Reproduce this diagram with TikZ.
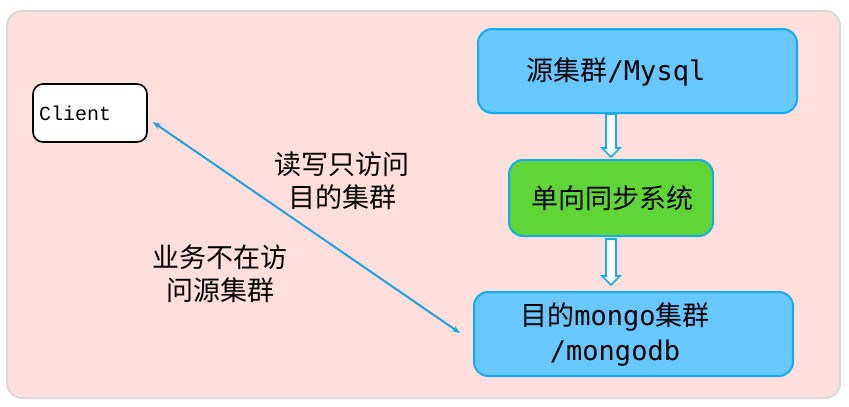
\documentclass[tikz,border=0pt]{standalone}
\usepackage{fontspec}
\newfontfamily\cjk{Noto Sans CJK SC}
\newfontfamily\mono{DejaVu Sans Mono}
\newfontfamily\cour{Liberation Mono}
\usetikzlibrary{arrows.meta,calc}
\definecolor{bgpink}{HTML}{FFDEDB}
\definecolor{bgline}{HTML}{D9D9D9}
\definecolor{boxblue}{HTML}{66C8FF}
\definecolor{boxline}{HTML}{12ADEE}
\definecolor{boxgreen}{HTML}{5FD635}
\definecolor{linkblue}{HTML}{1BA1E2}
\tikzset{
  box/.style={draw=boxline, line width=2pt, rounded corners=14pt, inner sep=0pt},
  bluebox/.style={box, fill=boxblue},
  greenbox/.style={box, fill=boxgreen},
  clientbox/.style={draw=black, line width=1.6pt, fill=white, rounded corners=10pt, inner sep=0pt, minimum width=114pt, minimum height=58pt},
  txt/.style={inner sep=0pt, align=center, font=\cjk\fontsize{27}{33}\selectfont},
  hollow/.style={draw=boxline, fill=white, line width=1.6pt, line join=miter},
  link/.style={draw=linkblue, line width=2pt, {Stealth[length=8pt,width=6pt]}-{Stealth[length=8pt,width=6pt]}}
}
\newcommand\hollowarrow[2]{%
  \draw[hollow] ($(#1)+(-5,0)$) -- ($(#2)+(-5,-9)$) -- ($(#2)+(-9,-9)$) -- (#2)
    -- ($(#2)+(9,-9)$) -- ($(#2)+(5,-9)$) -- ($(#1)+(5,0)$) -- cycle;}
\begin{document}
\begin{tikzpicture}[x=1pt,y=-1pt]
\useasboundingbox (0,0) rectangle (849,407);
\draw[draw=bgline, fill=bgpink, line width=2pt, rounded corners=15pt] (7,11) rectangle (840,398);
% boxes
\node[clientbox] (client) at (90,113) {};
\node[inner sep=0pt, anchor=west, font=\cour\fontsize{20}{22}\selectfont] (clientt) at (39,113) {Client};
\node[bluebox, minimum width=319pt, minimum height=84pt] (mysql) at (637.5,71) {};
\node[txt] (mysqlt) at (616,72) {源集群{\mono/Mysql}};
\node[greenbox, minimum width=204pt, minimum height=76pt] (sync) at (611,198) {};
\node[txt] (synct) at (612,198) {单向同步系统};
\node[bluebox, minimum width=319pt, minimum height=84pt] (mongo) at (633.5,334) {};
\node[txt, font=\cjk\fontsize{27}{35}\selectfont] (mongot) at (615,335) {目的{\mono mongo}集群\\{\mono/mongodb}};
% hollow arrows
\coordinate (a1s) at (sync.north |- mysql.south);
\coordinate (a1e) at ($(sync.north)+(0,-2)$);
\hollowarrow{a1s}{a1e}
\coordinate (a2s) at ($(sync.south)+(0,2)$);
\coordinate (a2e) at ($(sync.south |- mongo.north)+(0,-6)$);
\hollowarrow{a2s}{a2e}
% link
\draw[link] ($(client.east)+(5,9)$) -- ($(mongo.west)+(-13,-1)$);
% labels
\node[txt] (lab1) at (342,181) {读写只访问\\目的集群};
\node[txt] (lab2) at (220,274) {业务不在访\\问源集群};
\end{tikzpicture}
\end{document}
